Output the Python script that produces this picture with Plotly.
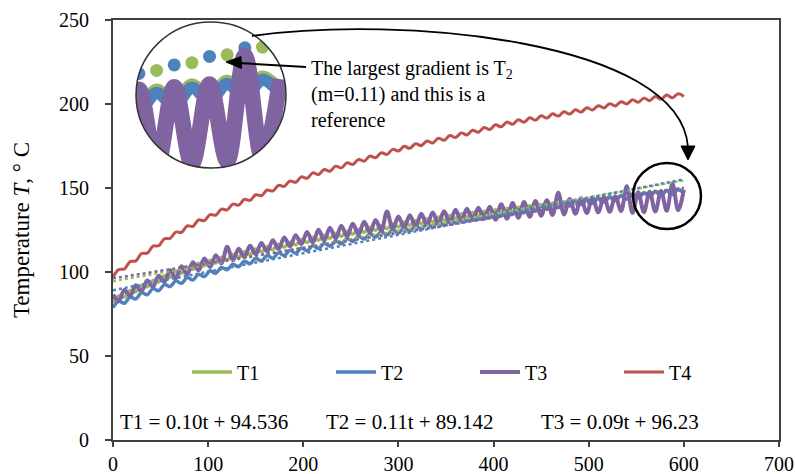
import plotly.graph_objects as go

# ---------------- data ----------------
time_s = list(range(0, 601, 6))

T1 = [81.8, 85.8, 85.0, 89.0, 88.2, 92.2, 91.2, 95.0, 94.0, 97.8,
      96.8, 100.4, 99.2, 102.8, 101.6, 105.2, 103.7, 107.0, 105.5, 108.8,
      107.3, 110.5, 108.9, 112.1, 110.5, 113.7, 112.0, 115.1, 113.4, 116.5,
      114.8, 117.9, 116.2, 119.3, 117.6, 120.7, 118.9, 121.9, 120.1, 123.1,
      121.3, 124.3, 122.5, 125.5, 123.7, 126.7, 124.8, 127.7, 125.8, 128.7,
      126.8, 129.7, 127.8, 130.7, 128.8, 131.7, 129.8, 132.7, 130.8, 133.7,
      131.8, 134.6, 132.6, 135.4, 133.4, 136.2, 134.2, 137.0, 135.0, 137.8,
      135.8, 138.6, 136.6, 139.4, 137.4, 140.2, 138.2, 141.0, 139.0, 141.8,
      139.8, 142.6, 140.6, 143.4, 141.4, 144.2, 142.2, 145.0, 143.0, 145.8,
      143.8, 146.6, 144.6, 147.4, 145.4, 148.2, 146.1, 148.8, 146.7, 149.4,
      147.3]

T2 = [78.8, 82.5, 81.4, 85.1, 84.0, 87.7, 86.5, 90.1, 88.9, 92.5,
      91.3, 94.7, 93.3, 96.7, 95.3, 98.7, 97.3, 100.7, 99.3, 102.7,
      101.3, 104.6, 103.1, 106.4, 104.9, 108.2, 106.6, 109.8, 108.2, 111.4,
      109.8, 112.9, 111.2, 114.3, 112.6, 115.7, 114.0, 117.1, 115.4, 118.5,
      116.8, 119.9, 118.2, 121.3, 119.6, 122.7, 120.9, 123.9, 122.1, 125.1,
      123.3, 126.3, 124.5, 127.5, 125.7, 128.7, 126.9, 129.9, 128.1, 131.1,
      129.3, 132.2, 130.3, 133.2, 131.3, 134.2, 132.3, 135.2, 133.3, 136.2,
      134.3, 137.2, 135.3, 138.2, 136.3, 139.2, 137.3, 140.2, 138.3, 141.2,
      139.3, 142.1, 140.1, 142.9, 140.9, 143.7, 141.7, 144.5, 142.5, 145.3,
      143.3, 146.1, 144.1, 146.9, 144.9, 147.7, 145.6, 148.3, 146.2, 148.9,
      146.8]

T3 = [86.5, 82.9, 89.3, 85.7, 92.1, 88.5, 94.9, 91.3, 97.7, 94.1,
      101.0, 96.2, 103.4, 98.6, 105.8, 101.0, 108.0, 103.0, 110.0, 105.0,
      115.0, 106.9, 113.8, 108.7, 115.6, 110.5, 117.3, 112.1, 118.9, 113.7,
      120.5, 115.2, 121.9, 116.6, 123.8, 117.5, 125.1, 118.7, 126.3, 119.9,
      127.5, 121.1, 128.7, 122.3, 129.9, 123.5, 131.0, 124.5, 136.0, 125.5,
      133.0, 126.4, 133.8, 127.2, 134.6, 128.0, 135.4, 128.8, 136.2, 129.6,
      137.0, 130.3, 137.6, 130.9, 138.2, 131.5, 138.8, 131.1, 140.4, 131.7,
      141.0, 132.3, 141.6, 132.9, 142.2, 133.5, 142.7, 133.9, 147.1, 134.3,
      143.5, 134.7, 143.9, 135.1, 144.3, 135.5, 144.7, 135.9, 145.1, 136.3,
      151.0, 135.2, 147.4, 135.6, 147.8, 136.0, 148.2, 136.4, 152.6, 136.8,
      149.0]

T4 = [97.0, 101.4, 101.8, 106.2, 106.6, 111.0, 111.2, 115.4, 115.6, 119.8,
      120.0, 123.8, 123.6, 127.4, 127.2, 131.0, 130.6, 134.2, 133.8, 137.4,
      137.0, 140.4, 139.8, 143.2, 142.6, 146.0, 145.4, 148.8, 148.2, 151.6,
      151.0, 154.2, 153.4, 156.6, 155.8, 159.0, 158.0, 161.0, 160.0, 163.0,
      162.0, 165.0, 164.0, 167.0, 166.0, 169.0, 168.0, 171.0, 170.0, 173.0,
      172.0, 174.8, 173.6, 176.4, 175.2, 178.0, 176.8, 179.6, 178.4, 181.2,
      180.0, 182.8, 181.6, 184.4, 183.2, 186.0, 184.8, 187.6, 186.4, 189.2,
      188.0, 190.6, 189.2, 191.8, 190.4, 193.0, 191.6, 194.2, 192.8, 195.4,
      194.0, 196.6, 195.2, 197.8, 196.4, 199.0, 197.6, 200.2, 198.8, 201.4,
      200.0, 202.5, 201.0, 203.5, 202.0, 204.5, 202.9, 205.3, 203.7, 206.1,
      204.5]

series_names = ["T1", "T2", "T3", "T4"]
trend_slopes = [0.10, 0.11, 0.09]
trend_intercepts = [94.536, 89.142, 96.23]
equation_labels = ["T1 = 0.10t + 94.536", "T2 = 0.11t + 89.142", "T3 = 0.09t + 96.23"]
x_ticks = [0, 100, 200, 300, 400, 500, 600, 700]
y_ticks = [0, 50, 100, 150, 200, 250]

# ---------------- styling ----------------
COLORS = ["#9BBB59", "#4F81BD", "#8064A2", "#C0504D"]
WIDTHS = [3.5, 3.5, 4, 3]
FONT = "Liberation Serif"
AXIS_COLOR = "#404040"

W, H = 795, 474
ML, MR, MT, MB = 113, 16, 20, 34
PW, PH = W - ML - MR, H - MT - MB


def px(xp):
    return (xp - ML) / PW


def py(yp):
    return (H - MB - yp) / PH


def P(xp, yp):
    return f"{px(xp):.5f},{py(yp):.5f}"


fig = go.Figure()
all_series = [T1, T2, T3, T4]

for name, vals, col, w in zip(series_names, all_series, COLORS, WIDTHS):
    fig.add_trace(go.Scatter(x=time_s, y=vals, mode="lines", name=name,
                             line=dict(color=col, width=w, shape="spline", smoothing=1.0)))

for m, b, col in zip(trend_slopes, trend_intercepts, COLORS):
    tx = [time_s[0], time_s[-1]]
    fig.add_trace(go.Scatter(x=tx, y=[b + m * v for v in tx], mode="lines",
                             line=dict(color=col, width=2.5, dash="dot"),
                             showlegend=False, hoverinfo="skip"))

# ---------------- magnified inset ----------------
win = [i for i, v in enumerate(time_s) if v >= 540]
ix = [time_s[i] for i in win]
dot_a = ix[1::2]
dot_b = ix[0::2]
fig.add_trace(go.Scatter(x=dot_a, y=[trend_intercepts[0] + trend_slopes[0] * v for v in dot_a],
                         mode="markers", marker=dict(color=COLORS[0], size=13),
                         xaxis="x2", yaxis="y2", showlegend=False))
fig.add_trace(go.Scatter(x=dot_b, y=[trend_intercepts[1] + trend_slopes[1] * v for v in dot_b],
                         mode="markers", marker=dict(color=COLORS[1], size=13),
                         xaxis="x2", yaxis="y2", showlegend=False))
for vals, col, w in zip(all_series[:3], COLORS[:3], [12, 12, 16]):
    fig.add_trace(go.Scatter(x=ix, y=[vals[i] for i in win], mode="lines",
                             line=dict(color=col, width=w, shape="spline", smoothing=1.0),
                             xaxis="x2", yaxis="y2", showlegend=False))

# inset geometry (pixels)
cx0, cx1, cy0, cy1 = 136, 286, 22, 168
ccx, ccy = (cx0 + cx1) / 2, (cy0 + cy1) / 2
rx, ry = (cx1 - cx0) / 2, (cy1 - cy0) / 2
k = 0.5523

square = f"M{P(cx0, cy0)} L{P(cx1, cy0)} L{P(cx1, cy1)} L{P(cx0, cy1)} Z "
circle = (f"M{P(ccx + rx, ccy)} "
          f"C{P(ccx + rx, ccy + k * ry)} {P(ccx + k * rx, ccy + ry)} {P(ccx, ccy + ry)} "
          f"C{P(ccx - k * rx, ccy + ry)} {P(ccx - rx, ccy + k * ry)} {P(ccx - rx, ccy)} "
          f"C{P(ccx - rx, ccy - k * ry)} {P(ccx - k * rx, ccy - ry)} {P(ccx, ccy - ry)} "
          f"C{P(ccx + k * rx, ccy - ry)} {P(ccx + rx, ccy - k * ry)} {P(ccx + rx, ccy)} Z")

shapes = [
    dict(type="path", xref="paper", yref="paper", path=square + circle,
         fillcolor="white", fillrule="evenodd", line=dict(width=0), layer="above"),
    dict(type="circle", xref="paper", yref="paper", x0=px(cx0), x1=px(cx1),
         y0=py(cy1), y1=py(cy0), line=dict(color="#333333", width=1.5), layer="above"),
    dict(type="circle", xref="paper", yref="paper", x0=px(633), x1=px(701),
         y0=py(229), y1=py(163), line=dict(color="black", width=2.5), layer="above"),
    dict(type="path", xref="paper", yref="paper",
         path=f"M{P(252, 36)} C{P(400, 15)} {P(680, 40)} {P(688, 147)}",
         line=dict(color="black", width=1.8), layer="above"),
    dict(type="path", xref="paper", yref="paper",
         path=f"M{P(681, 146)} L{P(695, 146)} L{P(688, 160)} Z",
         fillcolor="black", line=dict(color="black", width=1), layer="above"),
    dict(type="line", xref="paper", yref="paper", x0=px(306), y0=py(67),
         x1=px(239), y1=py(63), line=dict(color="black", width=2), layer="above"),
    dict(type="path", xref="paper", yref="paper",
         path=f"M{P(226, 62)} L{P(241, 56.5)} L{P(241.5, 68.5)} Z",
         fillcolor="black", line=dict(color="black", width=1), layer="above"),
]

annotations = [
    dict(xref="paper", yref="paper", x=px(309), y=py(55), xanchor="left", yanchor="top",
         align="left", showarrow=False,
         text="The largest gradient is T<sub>2</sub><br>(m=0.11) and this is a<br>reference",
         font=dict(family=FONT, size=20, color="black")),
]
for lbl, cxp in zip(equation_labels, [204, 410, 620]):
    annotations.append(dict(xref="paper", yref="paper", x=px(cxp), y=py(422),
                            text=lbl, showarrow=False, xanchor="center", yanchor="middle",
                            font=dict(family=FONT, size=21, color="black")))

fig.update_layout(
    width=W, height=H,
    margin=dict(l=ML, r=MR, t=MT, b=MB),
    paper_bgcolor="white", plot_bgcolor="white",
    font=dict(family=FONT, size=20, color="black"),
    xaxis=dict(range=[0, 700], tickvals=x_ticks, ticks="outside", ticklen=5,
               tickwidth=1.5, tickcolor=AXIS_COLOR, showgrid=False, zeroline=False,
               showline=True, linecolor=AXIS_COLOR, linewidth=2, mirror=True,
               automargin=False, ticklabelstandoff=0, ticklabeloverflow="allow",
               tickfont=dict(family=FONT, size=20, color="black")),
    yaxis=dict(range=[0, 250], tickvals=y_ticks, ticks="outside", ticklen=6,
               tickwidth=1.5, tickcolor=AXIS_COLOR, showgrid=False, zeroline=False,
               showline=True, linecolor=AXIS_COLOR, linewidth=2, mirror=True,
               automargin=False, ticklabelstandoff=12,
               tickfont=dict(family=FONT, size=20, color="black"),
               title=dict(text="Temperature <i>T</i>, ° C", standoff=23,
                          font=dict(family=FONT, size=23, color="black"))),
    xaxis2=dict(domain=[px(cx0), px(cx1)], range=[551, 602], visible=False,
                anchor="y2", showgrid=False, zeroline=False),
    yaxis2=dict(domain=[py(cy1), py(cy0)], range=[135.3, 157.8], visible=False,
                anchor="x2", showgrid=False, zeroline=False),
    legend=dict(orientation="h", x=px(187), y=py(372), xanchor="left", yanchor="middle",
                bgcolor="rgba(0,0,0,0)", font=dict(family=FONT, size=20),
                entrywidth=89, entrywidthmode="pixels", itemwidth=40),
    shapes=shapes,
    annotations=annotations,
)

fig.write_html("out.html", config={"displayModeBar": False},
               post_script="document.body.style.margin='0px';")
